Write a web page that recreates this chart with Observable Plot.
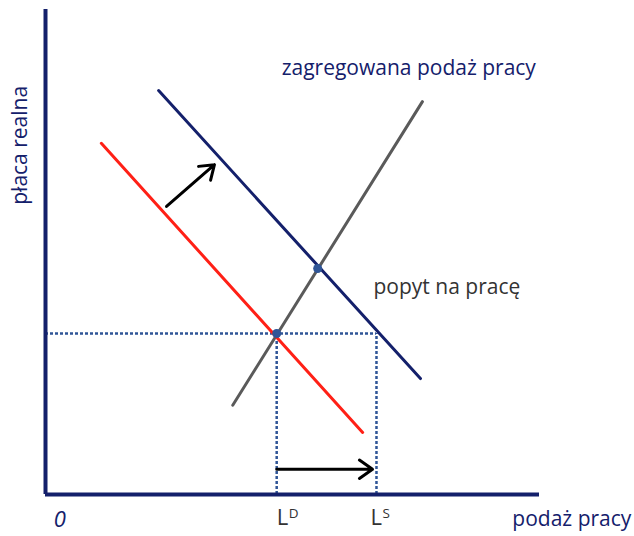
<!DOCTYPE html>
<html>
<head>
<meta charset="utf-8">
<script src="https://cdn.jsdelivr.net/npm/d3@7"></script>
<script src="https://cdn.jsdelivr.net/npm/@observablehq/plot@0.6"></script>
<style>
  html, body { margin: 0; padding: 0; background: #fff; }
</style>
</head>
<body>
<div id="chart"></div>
<script>
// ---- data (abstract units 0..10) ----
const demandOld = [ {x: 1.13, y: 7.24}, {x: 6.42, y: 1.28} ];   // red line
const demandNew = [ {x: 2.29, y: 8.33}, {x: 7.59, y: 2.39} ];   // navy line
const supply    = [ {x: 3.79, y: 1.84}, {x: 7.63, y: 8.10} ];   // gray line
const equilibria = [ {x: 4.68, y: 3.32}, {x: 5.51, y: 4.66} ];
const wage = 3.32;
const LD = 4.68, LS = 6.70;
const shiftArrow = [ {x1: 2.45, y1: 5.94, x2: 3.42, y2: 6.80} ];
const gapArrow = [ {x1: 4.68, y1: 0.52, x2: 6.62, y2: 0.52} ];
const tickLetters = ["L", "L"];
const tickSupers = ["D", "S"];
const lineLabels = ["zagregowana podaż pracy", "popyt na pracę"];
const axisLabels = ["płaca realna", "podaż pracy", "0"];

const NAVY = "#14206b", RED = "#ff2016", GRAY = "#5a5a5a", BLUE = "#2f5597";
const FONT = "'Open Sans', sans-serif";

const tickMarks = (x, i, dxBase, dxSup) => [
  Plot.text([tickLetters[i]], {x: x, y: -0.487, text: d => d, textAnchor: "start", dx: dxBase, fill: "#333", fontSize: 22}),
  Plot.text([tickSupers[i]], {x: x, y: -0.39, text: d => d, textAnchor: "start", dx: dxSup, fill: "#333", fontSize: 13.5})
];

const chart = Plot.plot({
  width: 634,
  height: 536,
  marginLeft: 45,
  marginRight: 95,
  marginTop: 9,
  marginBottom: 42,
  x: {domain: [0, 10], axis: null},
  y: {domain: [0, 10], axis: null},
  style: {fontFamily: FONT, background: "white"},
  marks: [
    // dotted guide lines
    Plot.ruleY([wage], {x1: 0, x2: LS, stroke: BLUE, strokeWidth: 2.5, strokeDasharray: "3,2"}),
    Plot.ruleX([LD, LS], {y1: 0, y2: wage, stroke: BLUE, strokeWidth: 2.5, strokeDasharray: "3,2"}),
    // curves
    Plot.line(supply, {x: "x", y: "y", stroke: GRAY, strokeWidth: 3}),
    Plot.line(demandOld, {x: "x", y: "y", stroke: RED, strokeWidth: 3}),
    Plot.line(demandNew, {x: "x", y: "y", stroke: NAVY, strokeWidth: 3}),
    // arrows
    Plot.arrow(shiftArrow, {x1: "x1", y1: "y1", x2: "x2", y2: "y2", stroke: "black", strokeWidth: 3, headLength: 8, headAngle: 70}),
    Plot.arrow(gapArrow, {x1: "x1", y1: "y1", x2: "x2", y2: "y2", stroke: "black", strokeWidth: 3, headLength: 8, headAngle: 70}),
    // equilibrium dots
    Plot.dot(equilibria, {x: "x", y: "y", r: 4.5, fill: BLUE}),
    // axes
    Plot.ruleX([0], {y1: 0, y2: 10, stroke: NAVY, strokeWidth: 4}),
    Plot.ruleY([0], {x1: 0, x2: 10, stroke: NAVY, strokeWidth: 4}),
    // line labels
    Plot.text([lineLabels[0]], {x: 4.78, y: 8.78, text: d => d, textAnchor: "start", fill: NAVY, fontSize: 21}),
    Plot.text([lineLabels[1]], {x: 6.64, y: 4.27, text: d => d, textAnchor: "start", fill: "#333", fontSize: 21}),
    // tick labels
    ...tickMarks(LD, 0, 0, 12),
    ...tickMarks(LS, 1, -6, 6),
    // axis labels
    Plot.text([axisLabels[1]], {x: 9.45, y: -0.52, text: d => d, textAnchor: "start", fill: NAVY, fontSize: 21}),
    Plot.text([axisLabels[2]], {x: 0.29, y: -0.515, text: d => d, textAnchor: "middle", fill: NAVY, fontSize: 22, fontStyle: "italic"}),
    Plot.text([axisLabels[0]], {x: 0, y: 7.2, text: d => d, dx: -25, rotate: -90, fill: NAVY, fontSize: 21})
  ]
});
document.getElementById("chart").append(chart);
</script>
</body>
</html>
